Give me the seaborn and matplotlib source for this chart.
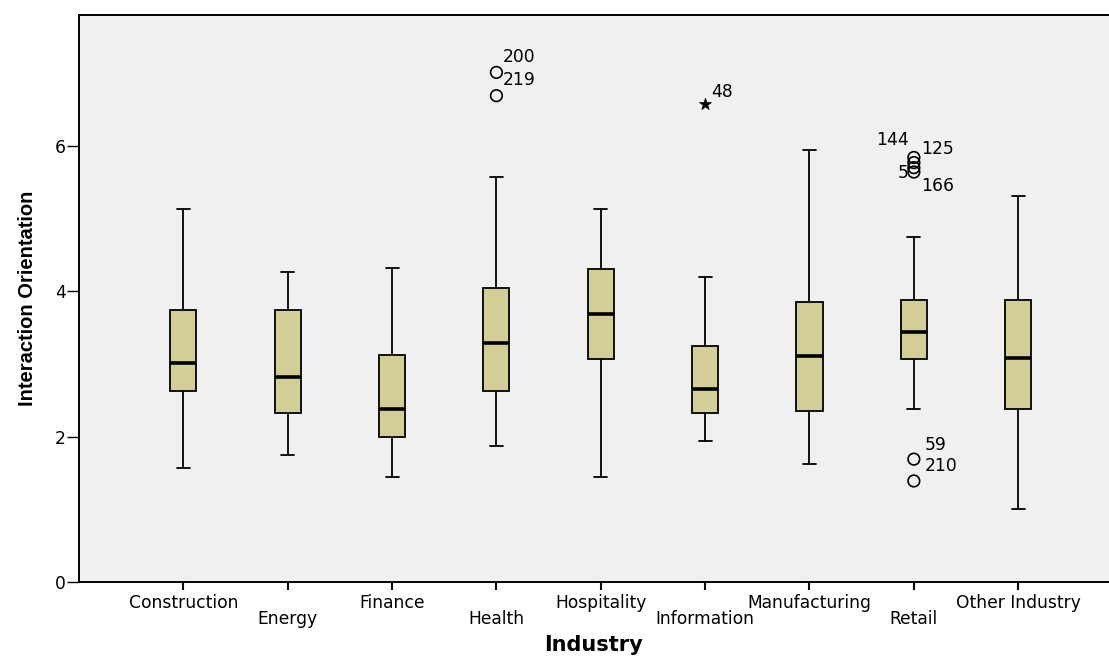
import matplotlib
matplotlib.use("Agg")
import matplotlib.pyplot as plt
from matplotlib import font_manager
import seaborn as sns
import pandas as pd
import numpy as np

# five-number summaries
industries = ["Construction", "Energy", "Finance", "Health", "Hospitality",
              "Information", "Manufacturing", "Retail", "Other Industry"]
whisker_low = [1.57, 1.75, 1.44, 1.87, 1.44, 1.94, 1.62, 2.38, 1.00]
q1 = [2.63, 2.32, 1.99, 2.63, 3.07, 2.32, 2.35, 3.07, 2.38]
median = [3.01, 2.82, 2.38, 3.29, 3.68, 2.65, 3.11, 3.44, 3.08]
q3 = [3.74, 3.74, 3.12, 4.05, 4.30, 3.24, 3.85, 3.88, 3.88]
whisker_high = [5.13, 4.26, 4.32, 5.57, 5.13, 4.19, 5.94, 4.74, 5.31]

# outliers (o) and extremes (*)
outlier_industry = ["Health", "Health", "Information", "Retail", "Retail",
                    "Retail", "Retail", "Retail", "Retail"]
outlier_value = [7.01, 6.69, 6.58, 5.84, 5.77, 5.70, 5.64, 1.69, 1.39]
outlier_case = ["200", "219", "48", "144", "125", "5", "166", "59", "210"]
outlier_extreme = [False, False, True, False, False, False, False, False, False]
# label offsets in pixels (dx, dy) and alignment
label_dx = [6, 6, 6, -5, 7, -5, 7, 11, 11]
label_dy = [15, 16, 12, 17, 14, -5, -14, 14, 15]
label_ha = ["left", "left", "left", "right", "left", "right", "left", "left", "left"]

rows = []
for i, ind in enumerate(industries):
    for v in (whisker_low[i], q1[i], median[i], q3[i], whisker_high[i]):
        rows.append({"Industry": ind, "value": v})
df = pd.DataFrame(rows)

out = pd.DataFrame({
    "pos": [industries.index(s) for s in outlier_industry],
    "value": outlier_value,
    "extreme": outlier_extreme,
})

sns.set_style("white")
names = {f.name for f in font_manager.fontManager.ttflist}
label_font = "Liberation Sans" if "Liberation Sans" in names else "DejaVu Sans"
plt.rcParams["font.family"] = ["DejaVu Sans"]
for k in ["text.color", "axes.labelcolor", "xtick.color", "ytick.color"]:
    plt.rcParams[k] = "black"

fig = plt.figure(figsize=(11.09, 6.57), dpi=100)
ax = fig.add_axes([79 / 1109, 1 - 582 / 657, 1 - 79 / 1109, (582 - 15) / 657])
ax.set_facecolor("#F0F0F0")

sns.boxplot(data=df, x="Industry", y="value", order=industries, ax=ax,
            whis=(0, 100), width=0.25, color="#D3CE97", saturation=1,
            linecolor="black", linewidth=1.3, showfliers=False,
            medianprops=dict(linewidth=2.6, color="black"))

circ = out[~out["extreme"]]
star = out[out["extreme"]]
sns.scatterplot(data=circ, x="pos", y="value", ax=ax, marker="o", s=70,
                facecolor="none", edgecolor="black", linewidth=1.2, legend=False)
sns.scatterplot(data=star, x="pos", y="value", ax=ax, marker="*", s=80,
                color="black", edgecolor="black", linewidth=0.5, legend=False)

for i in range(len(outlier_case)):
    ax.annotate(outlier_case[i], (industries.index(outlier_industry[i]), outlier_value[i]),
                xytext=(label_dx[i], label_dy[i]), textcoords="offset pixels",
                ha=label_ha[i], va="center", fontsize=12.3, color="black")

ax.set_xlim(-1, 8.87)
ax.set_ylim(0, 7.8)
ax.set_yticks([0, 2, 4, 6])
ax.set_yticklabels(["0", "2", "4", "6"])
ax.tick_params(axis="y", direction="out", length=8.5, width=1, labelsize=12.3, pad=1, left=True)
ax.tick_params(axis="x", direction="out", length=5.8, width=1.5, labelsize=12.3, pad=2.9, bottom=True)
ax.set_xticks(range(len(industries)))
ax.set_xticklabels(industries)
for i, tick in enumerate(ax.xaxis.get_major_ticks()):
    if i % 2 == 1:
        tick.tick1line.set_markersize(17.3)
        tick.set_pad(2.9 + 11.5)

for side in ["left", "bottom", "top"]:
    ax.spines[side].set_visible(True)
    ax.spines[side].set_color("black")
    ax.spines[side].set_linewidth(1.4)
ax.spines["right"].set_visible(False)

ax.set_xlabel("Industry", fontsize=15, fontweight="bold", labelpad=5)
ax.set_ylabel("Interaction Orientation", fontsize=14.5, fontweight="bold",
              family=[label_font, "DejaVu Sans"], labelpad=13)
ax.grid(False)

fig.savefig("out.png", dpi=100, facecolor="white")
